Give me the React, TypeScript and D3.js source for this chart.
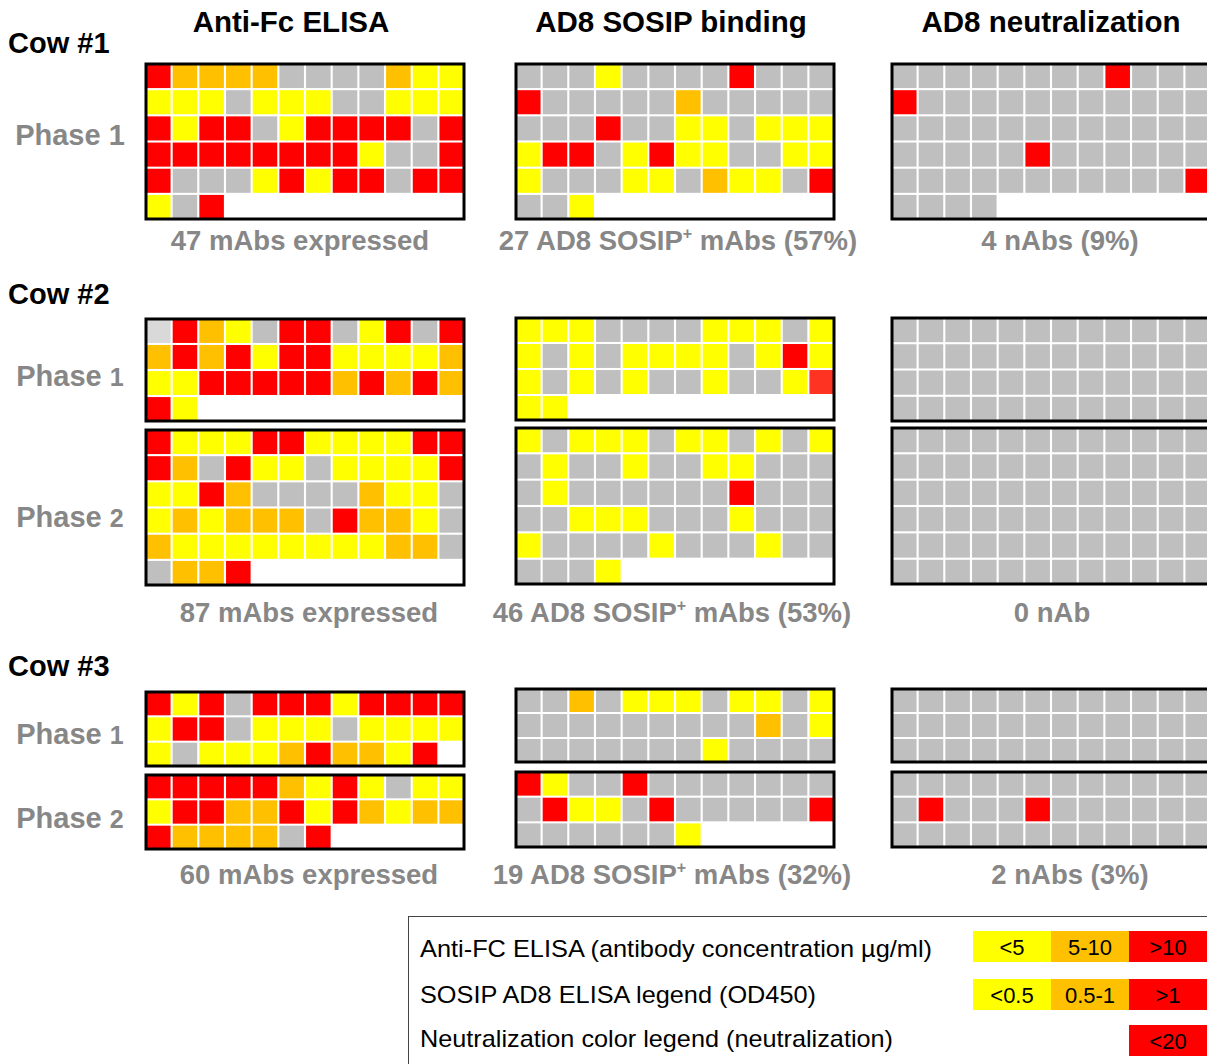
import React from "react";
import * as d3 from "d3";

// ---------- DATA (cell colour codes, row-major, 12 per row) ----------
// R = >10 / >1 / <20 (red), O = mid (orange), Y = low (yellow), G = negative (grey), L = light grey, S = red-orange
const cow1FcP1 = ["ROOOOGGGGOYY", "YYYGYYYGGYYY", "RYRRGYRRRRGR", "RRRRRRRRYGGR", "RGGGYRYRRGRR", "YGR"];
const cow1SosipP1 = ["GGGYGGGGRGGG", "RGGGGGOGGGGG", "GGGRGGYYGYYY", "YRRGYRYYGGYY", "YGGGYYGOYYGR", "GGY"];
const cow1NeutP1 = ["GGGGGGGGRGGG", "RGGGGGGGGGGG", "GGGGGGGGGGGG", "GGGGGRGGGGGG", "GGGGGGGGGGGR", "GGGG"];

const cow2FcP1 = ["LROYGRRGYRGR", "ORORYRRYYYYO", "YYRRRRRORORO", "RY"];
const cow2FcP2 = ["RYYYRRYYYYRR", "ROGRYYGYYYYR", "YYROGGGGOYYG", "YOYOOOGROOYG", "OYYYYYYYYOOG", "GOOR"];
const cow2SosipP1 = ["YYYGGGGYYYGY", "YGYGYYYYGYRY", "YGYGYGGYGGYS", "YY"];
const cow2SosipP2 = ["YGYYYGYYGYGY", "GYGGYGGYYGGG", "GYGGGGGGRGGG", "GGYYYGGGYGGG", "YGGGGYGGGYGG", "GGGY"];
const cow2NeutP1 = ["GGGGGGGGGGGG", "GGGGGGGGGGGG", "GGGGGGGGGGGG", "GGGGGGGGGGGG"];
const cow2NeutP2 = ["GGGGGGGGGGGG", "GGGGGGGGGGGG", "GGGGGGGGGGGG", "GGGGGGGGGGGG", "GGGGGGGGGGGG", "GGGGGGGGGGGG"];

const cow3FcP1 = ["RYRGRRRYRRRR", "YRRGYYYGYYYY", "YGYYYOROOYR"];
const cow3FcP2 = ["RRRRROYRYGYY", "YRROORYROYOO", "ROOOOGR"];
const cow3SosipP1 = ["GGOGYYYGYYGY", "GGGGGGGGGOGY", "GGGGGGGYGGGG"];
const cow3SosipP2 = ["RYGGRGGGGGGG", "GRYYGRGGGGGR", "GGGGGGY"];
const cow3NeutP1 = ["GGGGGGGGGGGG", "GGGGGGGGGGGG", "GGGGGGGGGGGG"];
const cow3NeutP2 = ["GGGGGGGGGGGG", "GRGGGRGGGGGG", "GGGGGGGGGGGG"];

const columnTitles = ["Anti-Fc ELISA", "AD8 SOSIP binding", "AD8 neutralization"];
const cowLabels = ["Cow #1", "Cow #2", "Cow #3"];
const fcSummary = ["47 mAbs expressed", "87 mAbs expressed", "60 mAbs expressed"];
const sosipCounts = ["27", "46", "19"];
const sosipPercents = ["57%", "53%", "32%"];
const nabSummary = ["4 nAbs (9%)", "0 nAb", "2 nAbs (3%)"];

const legendLabels = [
  "Anti-FC ELISA (antibody concentration µg/ml)",
  "SOSIP AD8 ELISA legend (OD450)",
  "Neutralization color legend (neutralization)",
];
const legendFcBins = ["<5", "5-10", ">10"];
const legendSosipBins = ["<0.5", "0.5-1", ">1"];
const legendNeutBins = ["<20"];

// ---------- STYLE ----------
const COLOR: Record<string, string> = {
  R: "#ff0000",
  O: "#ffc000",
  Y: "#ffff00",
  G: "#bfbfbf",
  L: "#d9d9d9",
  S: "#ff3322",
};
const binColors = ["#ffff00", "#ffc000", "#ff0000"];
const FONT = "'Liberation Sans', Arial, Helvetica, sans-serif";
const GREY_TEXT = "#878787";
const COLS = d3.range(12);

function Grid({ x, y, w, h, rows }: { x: number; y: number; w: number; h: number; rows: string[] }) {
  const xs = d3.scaleBand<number>().domain(COLS).range([x, x + w]).paddingInner(0.08);
  const ys = d3.scaleBand<number>().domain(d3.range(rows.length)).range([y, y + h]).paddingInner(0.08);
  return (
    <g>
      {rows.flatMap((r, i) =>
        r.split("").map((c, j) => (
          <rect
            key={`${i}-${j}`}
            x={xs(j)}
            y={ys(i)}
            width={xs.bandwidth()}
            height={ys.bandwidth()}
            fill={COLOR[c]}
          />
        ))
      )}
      <rect x={x} y={y} width={w} height={h} fill="none" stroke="#000" strokeWidth={3} />
    </g>
  );
}

const colX = [146, 516, 892];
const panelW = 318;
const panels: { rows: string[]; col: number; y: number; h: number }[] = [
  { rows: cow1FcP1, col: 0, y: 64, h: 155 },
  { rows: cow1SosipP1, col: 1, y: 64, h: 155 },
  { rows: cow1NeutP1, col: 2, y: 64, h: 155 },
  { rows: cow2FcP1, col: 0, y: 319, h: 102 },
  { rows: cow2FcP2, col: 0, y: 430, h: 155 },
  { rows: cow2SosipP1, col: 1, y: 318, h: 102 },
  { rows: cow2SosipP2, col: 1, y: 428, h: 156 },
  { rows: cow2NeutP1, col: 2, y: 318, h: 103 },
  { rows: cow2NeutP2, col: 2, y: 428, h: 156 },
  { rows: cow3FcP1, col: 0, y: 692, h: 74 },
  { rows: cow3FcP2, col: 0, y: 775, h: 74 },
  { rows: cow3SosipP1, col: 1, y: 689, h: 73 },
  { rows: cow3SosipP2, col: 1, y: 772, h: 75 },
  { rows: cow3NeutP1, col: 2, y: 689, h: 73 },
  { rows: cow3NeutP2, col: 2, y: 772, h: 75 },
];

const titleX = [291, 671, 1051];
const cowY = [53, 304, 676];
const phaseLabels = [
  { t: "Phase", n: "1", y: 145 },
  { t: "Phase", n: "1", y: 386 },
  { t: "Phase", n: "2", y: 527 },
  { t: "Phase", n: "1", y: 744 },
  { t: "Phase", n: "2", y: 828 },
];
const summaryY = [250, 622, 884];
const summaryX = [
  [300, 678, 1060],
  [309, 672, 1052],
  [309, 672, 1070],
];
const legendTextY = [957, 1003, 1047];
const legendTextW = [512, 396, 473];

export default function App() {
  const legendBinX = d3.scaleBand<number>().domain([0, 1, 2]).range([973, 1207]);
  return (
    <div style={{ position: "absolute", left: 0, top: 0 }}>
      <svg width={1207} height={1064} style={{ display: "block", background: "#fff" }} fontFamily={FONT}>
        {columnTitles.map((t, i) => (
          <text key={t} x={titleX[i]} y={32} textAnchor="middle" fontSize={29.5} fontWeight="bold" fill="#000">
            {t}
          </text>
        ))}
        {cowLabels.map((t, i) => (
          <text key={t} x={8} y={cowY[i]} fontSize={29} fontWeight="bold" fill="#000">
            {t}
          </text>
        ))}
        {phaseLabels.map((p, i) => (
          <text key={i} x={70} y={p.y} textAnchor="middle" fontSize={29} fontWeight="bold" fill={GREY_TEXT}>
            {p.t} <tspan fontSize={i === 0 ? 29 : 25}>{p.n}</tspan>
          </text>
        ))}
        {panels.map((p, i) => (
          <Grid key={i} x={colX[p.col]} y={p.y} w={panelW} h={p.h} rows={p.rows} />
        ))}
        {[0, 1, 2].map((i) => (
          <g key={i} fontSize={27.5} fontWeight="bold" fill={GREY_TEXT} textAnchor="middle">
            <text x={summaryX[i][0]} y={summaryY[i]}>{fcSummary[i]}</text>
            <text x={summaryX[i][1]} y={summaryY[i]}>
              {sosipCounts[i]} AD8 SOSIP
              <tspan fontSize={16} dy={-11}>+</tspan>
              <tspan dy={11}> mAbs ({sosipPercents[i]})</tspan>
            </text>
            <text x={summaryX[i][2]} y={summaryY[i]}>{nabSummary[i]}</text>
          </g>
        ))}
        {/* legend */}
        <rect x={408.5} y={916.5} width={820} height={160} fill="#fff" stroke="#444" strokeWidth={1} />
        {legendLabels.map((t, i) => (
          <text
            key={t}
            x={420}
            y={legendTextY[i]}
            fontSize={24}
            fill="#000"
            textLength={legendTextW[i]}
            lengthAdjust="spacingAndGlyphs"
          >
            {t}
          </text>
        ))}
        {[legendFcBins, legendSosipBins].map((bins, r) =>
          bins.map((b, k) => (
            <g key={`${r}-${k}`}>
              <rect
                x={legendBinX(k)}
                y={[931, 979][r]}
                width={legendBinX.bandwidth()}
                height={31}
                fill={binColors[k]}
              />
              <text
                x={(legendBinX(k) as number) + legendBinX.bandwidth() / 2}
                y={[931, 979][r] + 24}
                textAnchor="middle"
                fontSize={22}
                fill="#000"
              >
                {b}
              </text>
            </g>
          ))
        )}
        {legendNeutBins.map((b) => (
          <g key={b}>
            <rect x={legendBinX(2)} y={1025} width={legendBinX.bandwidth()} height={31} fill={binColors[2]} />
            <text
              x={(legendBinX(2) as number) + legendBinX.bandwidth() / 2}
              y={1049}
              textAnchor="middle"
              fontSize={22}
              fill="#000"
            >
              {b}
            </text>
          </g>
        ))}
      </svg>
    </div>
  );
}
